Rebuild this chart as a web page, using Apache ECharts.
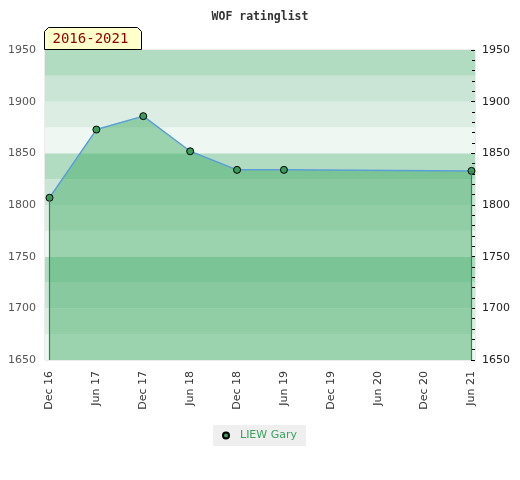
<!DOCTYPE html>
<html lang="en">
<head>
    <meta charset="UTF-8">
    <title>WOF ratinglist</title>
</head>
<body style="margin:0">
<div id="chart" style="width: 520px;height: 480px"></div>
<script src="https://cdn.jsdelivr.net/npm/echarts@6.0.0/dist/echarts.min.js"></script>
<script>
    // ratings per half year; gaps are periods with no rating
    var periods = ['Dec 16', 'Jun 17', 'Dec 17', 'Jun 18', 'Dec 18', 'Jun 19', 'Dec 19', 'Jun 20', 'Dec 20', 'Jun 21'];
    var ratings = [1807, 1873, 1886, 1852, 1834, 1834, null, null, null, 1833];
    var playerName = 'LIEW Gary';
    var rangeLabel = '2016-2021';
    var yMin = 1650, yMax = 1950;
    var bandColors = ['#eef7f1', '#dceee3', '#cae5d6', '#b2dcc2'];

    function lastIndex(arr) {
        for (var i = arr.length - 1; i >= 0; i--) {
            if (arr[i] != null) return i;
        }
        return 0;
    }

    function showChart() {
        var chart = echarts.init(document.getElementById('chart'));
        var last = lastIndex(ratings);
        var option = {
            animation: false,
            textStyle: {fontFamily: 'DejaVu Sans'},
            title: {
                text: 'WOF ratinglist',
                left: 'center',
                top: 6,
                textStyle: {fontFamily: 'DejaVu Sans Mono', fontSize: 11.5, fontWeight: 'bold', color: '#333'}
            },
            legend: {
                data: [{name: playerName, icon: 'circle'}],
                left: 213,
                top: 425,
                padding: [5, 9, 5, 9],
                itemWidth: 12,
                itemHeight: 6,
                itemGap: 5,
                backgroundColor: '#efefef',
                textStyle: {color: '#3aa35f', fontSize: 11, padding: [0, 0, 0, 3]}
            },
            graphic: [{
                type: 'group',
                left: 44,
                top: 27,
                children: [{
                    type: 'polygon',
                    shape: {points: [[0, 4], [4, 0], [93, 0], [97, 4], [97, 22], [0, 22]]},
                    style: {fill: '#ffffcc', stroke: '#000', lineWidth: 1}
                }, {
                    type: 'text',
                    x: 8,
                    y: 12,
                    style: {
                        text: rangeLabel,
                        fill: '#8b0000',
                        font: '14px "DejaVu Sans Mono"',
                        verticalAlign: 'middle'
                    }
                }]
            }],
            grid: [
                {left: 45, right: 45, top: 50, bottom: 120, show: true, borderColor: '#d8d8d8', borderWidth: 1, backgroundColor: 'transparent'},
                {left: 49.5, right: 48.5, top: 50, bottom: 120}
            ],
            xAxis: [
                {gridIndex: 0, type: 'value', show: false, min: 0, max: 1},
                {
                    gridIndex: 1,
                    type: 'category',
                    data: periods,
                    boundaryGap: false,
                    axisLine: {show: false},
                    axisTick: {show: false},
                    axisLabel: {rotate: 90, margin: 11, fontSize: 11, color: '#333', interval: 0}
                }
            ],
            yAxis: [
                {
                    gridIndex: 0,
                    type: 'value',
                    position: 'left',
                    min: yMin,
                    max: yMax,
                    interval: 25,
                    axisLine: {show: false},
                    axisTick: {show: false},
                    splitLine: {show: false},
                    splitArea: {show: true, areaStyle: {color: bandColors}},
                    axisLabel: {
                        margin: 9,
                        fontSize: 11,
                        color: '#555',
                        formatter: function (v) {
                            return v % 50 === 0 ? String(v) : '';
                        }
                    }
                },
                {
                    gridIndex: 0,
                    type: 'value',
                    position: 'right',
                    min: yMin,
                    max: yMax,
                    interval: 50,
                    axisLine: {show: false},
                    axisTick: {show: true, inside: true, length: 4, lineStyle: {color: '#000'}},
                    minorTick: {show: true, splitNumber: 5, length: 3, lineStyle: {color: '#000'}},
                    splitLine: {show: false},
                    axisLabel: {
                        margin: 7,
                        fontSize: 11,
                        color: '#222',
                        formatter: function (v) {
                            return String(v);
                        }
                    }
                },
                {gridIndex: 1, type: 'value', show: false, min: yMin, max: yMax}
            ],
            series: [{
                name: playerName,
                type: 'line',
                xAxisIndex: 1,
                yAxisIndex: 2,
                data: ratings,
                connectNulls: true,
                symbol: 'circle',
                symbolSize: 7,
                lineStyle: {color: '#5b9fd6', width: 1.5},
                itemStyle: {color: '#3a9e5a', borderColor: '#000', borderWidth: 1},
                areaStyle: {color: 'rgba(61,169,98,0.47)', opacity: 1},
                markLine: {
                    silent: true,
                    symbol: 'none',
                    label: {show: false},
                    lineStyle: {color: '#2a8a4e', width: 1.2, type: 'solid', opacity: 1},
                    emphasis: {disabled: true},
                    data: [
                        [{coord: [periods[0], ratings[0]]}, {coord: [periods[0], yMin]}],
                        [{coord: [periods[last], ratings[last]]}, {coord: [periods[last], yMin]}]
                    ]
                },
                z: 3
            }]
        };
        chart.setOption(option);
    }

    showChart();
</script>
</body>
</html>
